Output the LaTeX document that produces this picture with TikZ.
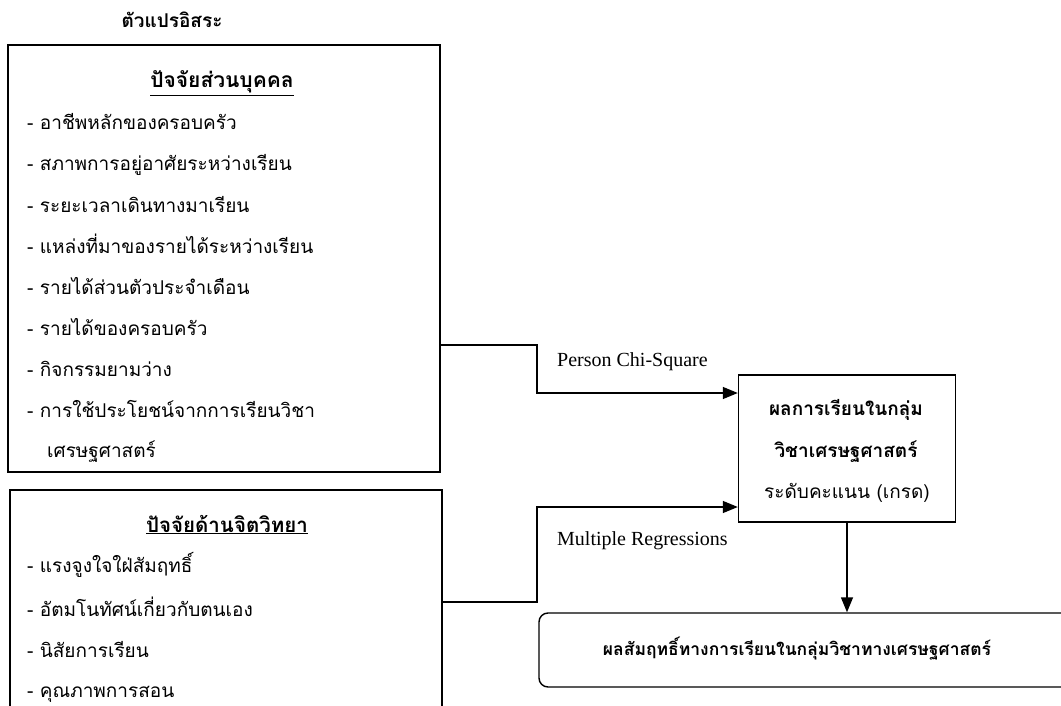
\documentclass[tikz,border=0pt]{standalone}
\usepackage{fontspec}
\setmainfont{Liberation Serif}
\newfontfamily\thai[Script=Thai]{Loma}
\usetikzlibrary{arrows.meta,calc}
\tikzset{
  boxframe/.style={draw=black, line width=1.4pt, inner sep=0pt, fill=none},
  thaitxt/.style={font=\thai\fontsize{19}{22}\selectfont, inner sep=0pt},
  thaibold/.style={font=\thai\bfseries\fontsize{#1}{22}\selectfont, inner sep=0pt},
  thaibold/.default=20,
  lattxt/.style={font=\fontsize{20}{22}\selectfont, inner sep=0pt},
  arr/.style={line width=1.4pt, -{Triangle[length=15pt,width=12pt]}},
}
\begin{document}
\begin{tikzpicture}[x=1pt,y=-1pt]
\useasboundingbox (0,0) rectangle (1061,706);
\fill[white] (0,0) rectangle (1061,706);
\begin{scope}
\clip (0,0) rectangle (1061,706);
% title
\node[thaibold=19, anchor=base] (title) at (172,28) {ตัวแปรอิสระ};
% box 1
\node[boxframe, minimum width=432pt, minimum height=427pt] (box1) at (224,258.5) {};
\node[thaibold=21, anchor=base] (h1) at (222,88) {\underline{ปัจจัยส่วนบุคคล}};
\node[thaitxt, anchor=base west] (i1) at (27,130) {- อาชีพหลักของครอบครัว};
\node[thaitxt, anchor=base west] (i2) at (27,171) {- สภาพการอยู่อาศัยระหว่างเรียน};
\node[thaitxt, anchor=base west] (i3) at (27,212) {- ระยะเวลาเดินทางมาเรียน};
\node[thaitxt, anchor=base west] (i4) at (27,253) {- แหล่งที่มาของรายได้ระหว่างเรียน};
\node[thaitxt, anchor=base west] (i5) at (27,294) {- รายได้ส่วนตัวประจำเดือน};
\node[thaitxt, anchor=base west] (i6) at (27,335) {- รายได้ของครอบครัว};
\node[thaitxt, anchor=base west] (i7) at (27,376) {- กิจกรรมยามว่าง};
\node[thaitxt, anchor=base west] (i8) at (27,417) {- การใช้ประโยชน์จากการเรียนวิชา};
\node[thaitxt, anchor=base west] (i9) at (47,457) {เศรษฐศาสตร์};
% box 2
\node[boxframe, minimum width=432pt, minimum height=240pt] (box2) at (226,610) {};
\node[thaibold=20.5, anchor=base] (h2) at (227,532) {\underline{ปัจจัยด้านจิตวิทยา}};
\node[thaitxt, anchor=base west] (j1) at (27,572) {- แรงจูงใจใฝ่สัมฤทธิ์};
\node[thaitxt, anchor=base west] (j2) at (27,616) {- อัตมโนทัศน์เกี่ยวกับตนเอง};
\node[thaitxt, anchor=base west] (j3) at (27,657) {- นิสัยการเรียน};
\node[thaitxt, anchor=base west] (j4) at (27,697) {- คุณภาพการสอน};
% result box
\node[boxframe, minimum width=217pt, minimum height=147pt] (res) at (847,448.5) {};
\node[thaibold=19, anchor=base] (r1) at (846,415) {ผลการเรียนในกลุ่ม};
\node[thaibold=19, anchor=base] (r2) at (846,457) {วิชาเศรษฐศาสตร์};
\node[thaitxt, anchor=base] (r3) at (847,498) {ระดับคะแนน (เกรด)};
% bottom box
\node[boxframe, rounded corners=9pt, minimum width=540pt, minimum height=74pt] (fin) at (809,650) {};
\node[thaibold=17.5, anchor=base] (f1) at (797,655) {ผลสัมฤทธิ์ทางการเรียนในกลุ่มวิชาทางเศรษฐศาสตร์};
% connectors
\coordinate (a1) at (537,345);
\coordinate (a2) at (537,393);
\draw[arr] (a1 -| box1.east) -- (a1) -- (a2) -- (a2 -| res.west);
\coordinate (b1) at (537,602);
\coordinate (b2) at (537,507);
\draw[arr] (b1 -| box2.east) -- (b1) -- (b2) -- (b2 -| res.west);
\draw[arr] (res.south) -- (fin.north -| res.south);
% labels
\node[lattxt, anchor=base west] (l1) at (557,366) {Person Chi-Square};
\node[lattxt, anchor=base west] (l2) at (557,545) {Multiple Regressions};
\end{scope}
\end{tikzpicture}
\end{document}
